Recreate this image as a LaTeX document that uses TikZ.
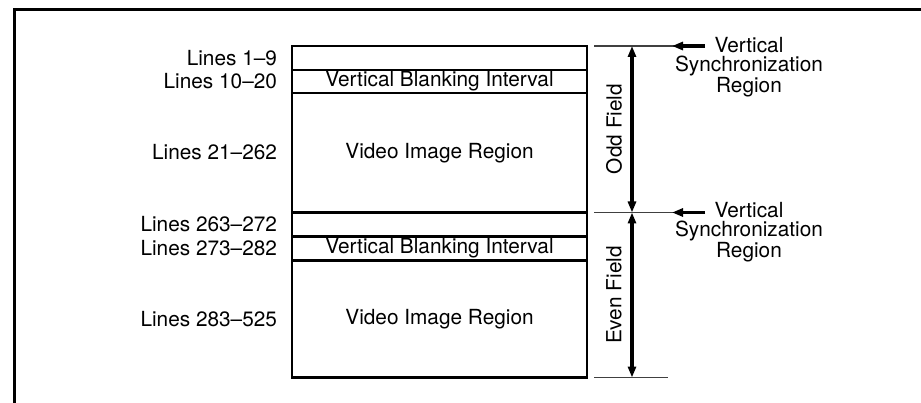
\documentclass[tikz,border=0pt]{standalone}
\usepackage{fontspec}
\setmainfont{TeX Gyre Heros}
\usetikzlibrary{arrows.meta}
\begin{document}
\begin{tikzpicture}[x=1pt,y=-1pt,
  every node/.style={font=\fontsize{20.8}{19}\selectfont, inner sep=0pt, outer sep=0pt},
  rowbox/.style={draw, line width=2.1pt, minimum width=295pt, anchor=north west},
  linelabel/.style={anchor=east},
  tick/.style={draw, line width=1.5pt, black!75},
  fieldarrow/.style={line width=3.2pt, {Triangle[length=11pt,width=8pt]}-{Triangle[length=11pt,width=8pt]}},
  syncarrow/.style={line width=3.2pt, -{Triangle[length=11pt,width=8pt]}},
  synctext/.style={align=center},
  fieldtext/.style={rotate=90}
]
\useasboundingbox (0,0) rectangle (921,403);
% frame
\draw[line width=3pt] (14,430) -- (14,10) -- (940,10);

% rows
\node[rowbox, minimum height=24pt] (r1) at (292,46) {};
\node[rowbox, minimum height=23pt] (r2) at (292,70) {Vertical Blanking Interval};
\node[rowbox, minimum height=119.5pt] (r3) at (292,93) {Video Image Region};
\node[rowbox, minimum height=24pt] (r4) at (292,212.5) {};
\node[rowbox, minimum height=24pt] (r5) at (292,236.5) {Vertical Blanking Interval};
\node[rowbox, minimum height=117pt] (r6) at (292,260.5) {Video Image Region};

% line labels
\node[linelabel] (l1) at (277,58) {Lines 1--9};
\node[linelabel] (l2) at (277,81.5) {Lines 10--20};
\node[linelabel] (l3) at (277,152.5) {Lines 21--262};
\node[linelabel] (l4) at (277,224.5) {Lines 263--272};
\node[linelabel] (l5) at (277,248.5) {Lines 273--282};
\node[linelabel] (l6) at (277,319) {Lines 283--525};

% tick lines
\coordinate (t1a) at (594,46);
\coordinate (t1b) at (675,46);
\coordinate (t2a) at (594,212.5);
\coordinate (t2b) at (675,212.5);
\coordinate (t3a) at (594,377.5);
\coordinate (t3b) at (668,377.5);
\draw[tick] (t1a) -- (t1b);
\draw[tick] (t2a) -- (t2b);
\draw[tick] (t3a) -- (t3b);

% field arrows
\coordinate (o1) at (632,46);
\coordinate (o2) at (632,212.5);
\coordinate (o3) at (632,377.5);
\draw[fieldarrow] (o1) -- (o2);
\draw[fieldarrow] (o2) -- (o3);
\node[fieldtext] (odd) at (614,129) {Odd Field};
\node[fieldtext] (even) at (614,295) {Even Field};

% sync labels
\node[synctext] (s1) at (749,67) {Vertical\\Synchronization\\Region};
\node[synctext] (s2) at (749,232) {Vertical\\Synchronization\\Region};
\coordinate (a1s) at (705,46);
\coordinate (a1e) at (672,46);
\coordinate (a2s) at (705,212.5);
\coordinate (a2e) at (672,212.5);
\draw[syncarrow] (a1s) -- (a1e);
\draw[syncarrow] (a2s) -- (a2e);
\end{tikzpicture}
\end{document}
